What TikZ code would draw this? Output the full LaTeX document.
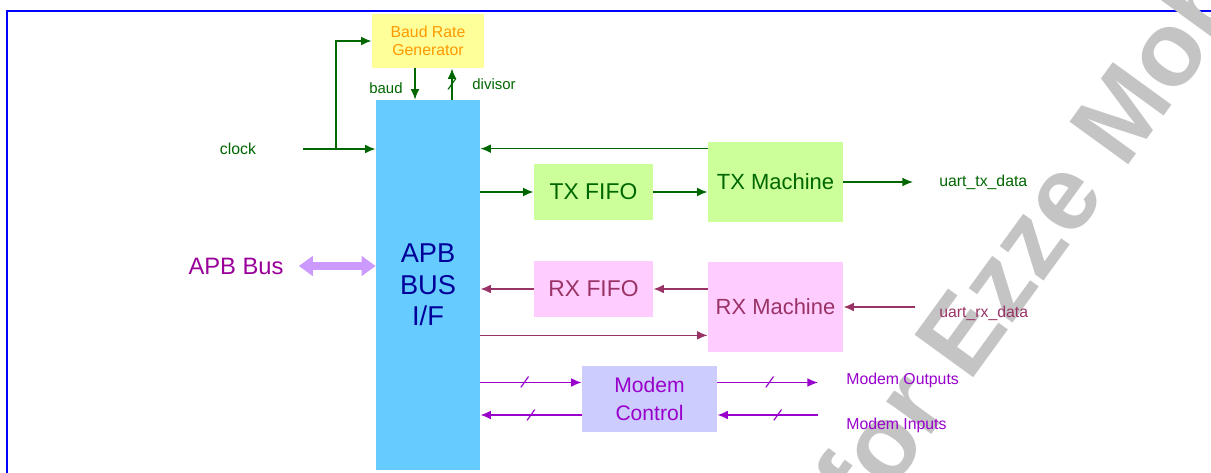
\documentclass[tikz,border=0pt]{standalone}
\usepackage{xcolor}
\usepackage{fontspec}
\setmainfont{Liberation Sans}
\usetikzlibrary{arrows.meta, positioning}

\definecolor{txgreen}{HTML}{006600}
\definecolor{txfill}{HTML}{CCFF99}
\definecolor{rxred}{HTML}{993366}
\definecolor{rxfill}{HTML}{FFCCFF}
\definecolor{mdmpurple}{HTML}{9900CC}
\definecolor{mdmfill}{HTML}{CCCCFF}
\definecolor{apbfill}{HTML}{66CCFF}
\definecolor{apbtext}{HTML}{000099}
\definecolor{baudfill}{HTML}{FFFF99}
\definecolor{baudtext}{HTML}{FF9900}
\definecolor{busfill}{HTML}{CC99FF}
\definecolor{bustext}{HTML}{990099}
\definecolor{framecol}{HTML}{0000FF}
\definecolor{wmgray}{HTML}{C4C4C4}

\begin{document}
\begin{tikzpicture}[x=0.02cm, y=-0.02cm, >={Latex[length=6pt, width=5pt]},
    box/.style={rectangle, inner sep=0pt, align=center},
    sig/.style={->, line width=0.9pt},
    lbl/.style={inner sep=0pt, font=\fontsize{9}{9}\selectfont},
    tick/.style={inner sep=0pt, rotate=-20, font=\fontsize{10}{10}\selectfont}]
    \useasboundingbox (0,0) rectangle (1211,473);

    \draw[framecol, line width=1.7pt] (7,473) -- (7,11) -- (1211,11);
    % watermark
    \begin{scope}
        \clip (0,0) rectangle (1211,473);
        \node[text=wmgray, rotate=54, font=\fontsize{60}{60}\selectfont\bfseries] (wm) at (1030,236) {for Ezze Mob};
    \end{scope}

    % blocks
    \node[box, fill=baudfill, text=baudtext, minimum width=2.24cm, minimum height=1.08cm, font=\fontsize{9}{10}\selectfont] (baudgen) at (428,41) {Baud Rate\\Generator};
    \node[box, fill=apbfill, text=apbtext, minimum width=2.08cm, minimum height=7.4cm, font=\fontsize{15.5}{18}\selectfont] (apb) at (428,285) {APB\\BUS\\I/F};
    \node[box, fill=txfill, text=txgreen, minimum width=2.38cm, minimum height=1.14cm, font=\fontsize{13}{13}\selectfont] (txfifo) at (593.5,192) {TX FIFO};
    \node[box, fill=txfill, text=txgreen, minimum width=2.7cm, minimum height=1.6cm, font=\fontsize{12.5}{13}\selectfont] (txmach) at (775.5,182) {TX Machine};
    \node[box, fill=rxfill, text=rxred, minimum width=2.38cm, minimum height=1.14cm, font=\fontsize{13}{13}\selectfont] (rxfifo) at (593.5,289) {RX FIFO};
    \node[box, fill=rxfill, text=rxred, minimum width=2.7cm, minimum height=1.8cm, font=\fontsize{12.5}{13}\selectfont] (rxmach) at (775.5,307) {RX Machine};
    \node[box, fill=mdmfill, text=mdmpurple, minimum width=2.7cm, minimum height=1.32cm, font=\fontsize{12}{16}\selectfont] (modem) at (649.5,399) {Modem\\Control};

    % labels
    \node[inner sep=0pt, text=bustext, font=\fontsize{13.5}{13.5}\selectfont] (apbbus) at (236,266) {APB Bus};
    \node[lbl, text=txgreen] (clk) at (238,149) {clock};
    \node[lbl, text=txgreen, font=\fontsize{8.5}{8.5}\selectfont] (baudlbl) at (386,88) {baud};
    \node[lbl, text=txgreen, font=\fontsize{8.5}{8.5}\selectfont] (divlbl) at (494,84) {divisor};
    \node[lbl, text=txgreen, anchor=west] (txd) at (939,182) {uart\_tx\_data};
    \node[lbl, text=rxred, anchor=west] (rxd) at (939,313) {uart\_rx\_data};
    \node[lbl, text=mdmpurple, anchor=west] (mout) at (846,380) {Modem Outputs};
    \node[lbl, text=mdmpurple, anchor=west] (min) at (846,425) {Modem Inputs};

    % clock and baud
    \coordinate (clkin) at (303,149);
    \coordinate (clksplit) at (336,149);
    \draw[sig, txgreen] (clkin) -- (clkin -| apb.west);
    \draw[sig, txgreen] (clksplit) |- (baudgen.west);
    \draw[sig, txgreen] ([xshift=-0.26cm]baudgen.south) -- ([xshift=-0.26cm]baudgen.south |- apb.north);
    \draw[sig, txgreen] ([xshift=0.48cm]apb.north) -- node[tick]{/} ([xshift=0.48cm]apb.north |- baudgen.south);

    % transmit path
    \path ([yshift=-0.14cm]txmach.north west) coordinate (txback);
    \draw[sig, txgreen] (txback) -- (txback -| apb.east);
    \draw[sig, txgreen] (apb.east |- txfifo.west) -- (txfifo.west);
    \draw[sig, txgreen] (txfifo.east) -- (txfifo.east -| txmach.west);
    \draw[sig, txgreen] (txmach.east) -- ([xshift=-0.52cm]txmach.east -| txd.west);

    % receive path
    \draw[sig, rxred] ([xshift=-0.48cm]rxd.west |- rxmach.east) -- (rxmach.east);
    \draw[sig, rxred] (rxmach.west |- rxfifo.east) -- (rxfifo.east);
    \draw[sig, rxred] (rxfifo.west) -- (rxfifo.west -| apb.east);
    \path ([yshift=0.34cm]rxmach.south west) coordinate (rxcfg);
    \draw[sig, rxred] (rxcfg -| apb.east) -- (rxcfg);

    % modem
    \draw[sig, mdmpurple] ([yshift=0.33cm]modem.west -| apb.east) -- node[tick, pos=0.44]{/} ([yshift=0.33cm]modem.west);
    \draw[sig, mdmpurple] ([yshift=-0.32cm]modem.west) -- node[tick, pos=0.5]{/} ([yshift=-0.32cm]modem.west -| apb.east);
    \draw[sig, mdmpurple] ([yshift=0.33cm]modem.east) -- node[tick, pos=0.52]{/} ([xshift=-0.56cm, yshift=0.33cm]modem.east -| mout.west);
    \draw[sig, mdmpurple] ([xshift=-0.56cm, yshift=-0.32cm]modem.east -| min.west) -- node[tick, pos=0.4]{/} ([yshift=-0.32cm]modem.east);

    % bus
    \draw[busfill, line width=4.5pt, {Triangle[length=8pt, width=11pt]}-{Triangle[length=8pt, width=11pt]}] ([xshift=0.3cm]apbbus.east) -- (apbbus.east -| apb.west);
\end{tikzpicture}
\end{document}
